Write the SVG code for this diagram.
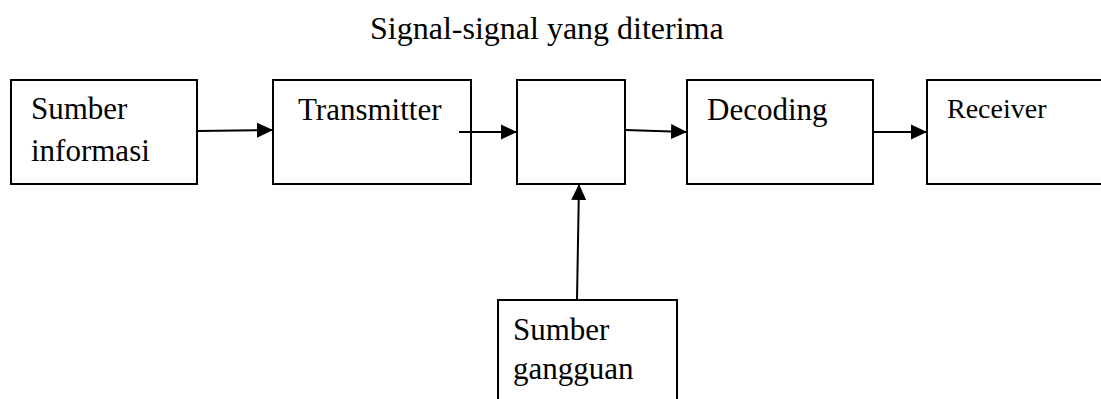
<svg xmlns="http://www.w3.org/2000/svg" width="1101" height="399" viewBox="0 0 1101 399">
  <style>
    .box { fill: #fff; stroke: #000; stroke-width: 2; }
    .lbl { font-family: "Liberation Serif", "Times New Roman", serif; font-size: 31px; fill: #000; }
    .edge { stroke: #000; stroke-width: 2; fill: none; marker-end: url(#head); }
  </style>
  <defs>
    <!-- solid triangular arrowhead, tip at the end of the line -->
    <marker id="head" markerUnits="userSpaceOnUse" markerWidth="17" markerHeight="17" refX="16" refY="8" orient="auto">
      <path d="M0,0.5 L16,8 L0,15.5 Z" fill="#000"/>
    </marker>
  </defs>
  <rect width="1101" height="399" fill="#fff"/>

  <text class="lbl" x="370" y="39" style="font-size:32px">Signal-signal yang diterima</text>

  <g id="sumber-informasi">
    <rect class="box" x="11" y="80" width="186" height="104"/>
    <text class="lbl" x="31" y="119">Sumber</text>
    <text class="lbl" x="31" y="161">informasi</text>
  </g>
  <g id="transmitter">
    <rect class="box" x="273" y="80" width="198" height="104"/>
    <text class="lbl" x="298" y="120">Transmitter</text>
  </g>
  <g id="channel">
    <rect class="box" x="517" y="80" width="108" height="104"/>
  </g>
  <g id="decoding">
    <rect class="box" x="687" y="80" width="186" height="104"/>
    <text class="lbl" x="707" y="120">Decoding</text>
  </g>
  <g id="receiver">
    <rect class="box" x="927" y="80" width="190" height="104"/>
    <text class="lbl" x="947" y="118" style="font-size:28px">Receiver</text>
  </g>
  <g id="sumber-gangguan">
    <rect class="box" x="498" y="300" width="179" height="120"/>
    <text class="lbl" x="513" y="340">Sumber</text>
    <text class="lbl" x="513" y="379">gangguan</text>
  </g>

  <g id="connectors">
    <path class="edge" d="M197,131 L273,130"/>
    <path class="edge" d="M459,132 L517,132"/>
    <path class="edge" d="M625,130 L687,132"/>
    <path class="edge" d="M873,132 L927,132"/>
    <path class="edge" d="M577,300 L579,184"/>
  </g>
</svg>
